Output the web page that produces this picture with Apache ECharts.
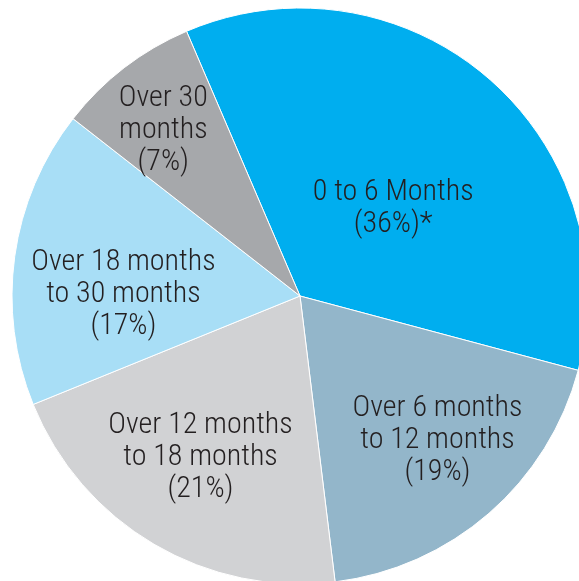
<!DOCTYPE html>
<html>
<head>
<meta charset="utf-8">
<script src="https://cdn.jsdelivr.net/npm/echarts@6/dist/echarts.min.js"></script>
<style>
  html, body { margin: 0; padding: 0; background: #fff; }
  #chart { width: 579px; height: 581px; }
</style>
</head>
<body>
<div id="chart"></div>
<script>
// slice names and shares (clockwise from the top-left)
var categories = ['0 to 6 Months', 'Over 6 months to 12 months', 'Over 12 months to 18 months', 'Over 18 months to 30 months', 'Over 30 months'];
var shares = [35.6, 18.9, 20.8, 16.7, 8.0];
// label text as printed on the chart
var labelLines = [
    '0 to 6 Months\n(36%)*',
    'Over 6 months\nto 12 months\n(19%)',
    'Over 12 months\nto 18 months\n(21%)',
    'Over 18 months\nto 30 months\n(17%)',
    'Over 30\nmonths\n(7%)'
];
var colors = ['#00aeef', '#93b6ca', '#d1d2d4', '#a8def6', '#a6a8ab'];
// nudges so the labels sit where they are in the original
var labelNudge = [[-3, 24], [41, 34], [-25, 35], [-31, 19], [-47, -49]];

var myChart = echarts.init(document.getElementById('chart'));

var option = {
    animation: false,
    series: [
        {
            type: 'pie',
            center: [300, 296],
            radius: [0, 288],
            startAngle: 113.2,
            clockwise: true,
            silent: true,
            itemStyle: {
                borderColor: '#ffffff',
                borderWidth: 1
            },
            label: {
                show: true,
                position: 'inside',
                color: '#231f20',
                fontFamily: 'Roboto',
                fontWeight: '300 condensed', // goes into the canvas font string
                fontSize: 30,
                lineHeight: 32,
                align: 'center',
                formatter: function (p) {
                    return labelLines[p.dataIndex];
                }
            },
            labelLine: { show: false },
            labelLayout: function (p) {
                return { dx: labelNudge[p.dataIndex][0], dy: labelNudge[p.dataIndex][1] };
            },
            data: categories.map(function (name, i) {
                return { name: name, value: shares[i], itemStyle: { color: colors[i] } };
            })
        }
    ]
};

myChart.setOption(option);
</script>
</body>
</html>
